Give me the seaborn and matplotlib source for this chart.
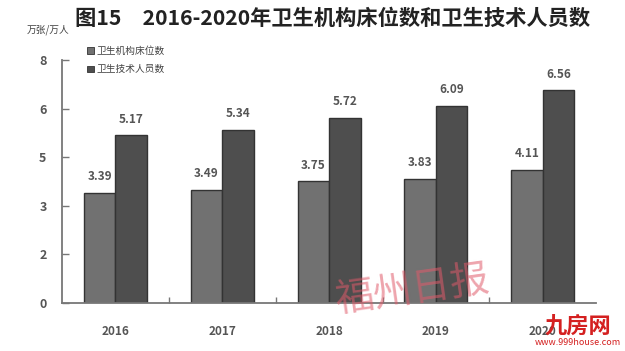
import matplotlib
matplotlib.use("Agg")
import matplotlib.pyplot as plt
import seaborn as sns
import pandas as pd
import numpy as np
from matplotlib.ticker import FuncFormatter, FixedLocator
from matplotlib.patches import Patch

years = ["2016", "2017", "2018", "2019", "2020"]
beds = [3.39, 3.49, 3.75, 3.83, 4.11]
staff = [5.17, 5.34, 5.72, 6.09, 6.56]
series_names = ["卫生机构床位数", "卫生技术人员数"]
y_ticks = [0, 1.5, 3.0, 4.5, 6.0, 7.5]

df = pd.DataFrame({
    "year": years * 2,
    "value": beds + staff,
    "series": [series_names[0]] * len(years) + [series_names[1]] * len(years),
})

sns.set_theme(style="white")
plt.rcParams["font.family"] = ["Noto Sans CJK SC", "DejaVu Sans"]

fig = plt.figure(figsize=(6.25, 3.51), dpi=100)
ax = fig.add_axes([0.099, 0.137, 0.855, 0.692])

palette = ["#717171", "#4e4e4e"]
sns.barplot(data=df, x="year", y="value", hue="series", palette=palette,
            width=0.59, edgecolor="#333333", linewidth=1.0, saturation=1,
            ax=ax, legend=False)

for cont in ax.containers:
    ax.bar_label(cont, fmt="%.2f", padding=7, fontsize=8.5, color="#555555",
                 fontweight="bold")

ax.set_xlim(-0.5, 4.5)
ax.set_ylim(0, 7.5)
ax.yaxis.set_major_locator(FixedLocator(y_ticks))
ax.yaxis.set_major_formatter(FuncFormatter(lambda v, p: f"{int(np.floor(v + 0.5))}"))
ax.set_xlabel("")
ax.set_ylabel("")

for s in ["top", "right"]:
    ax.spines[s].set_visible(False)
for s in ["left", "bottom"]:
    ax.spines[s].set_color("#777777")
    ax.spines[s].set_linewidth(1.3)

ax.tick_params(axis="y", direction="in", length=5, width=1, color="#777777",
               labelsize=9, labelcolor="#555555", pad=11, left=True)
ax.tick_params(axis="x", bottom=False, labelsize=8.5, labelcolor="#555555", pad=10)
for lab in ax.get_yticklabels() + ax.get_xticklabels():
    lab.set_fontweight("bold")
ax.xaxis.set_minor_locator(FixedLocator([0.5, 1.5, 2.5, 3.5]))
ax.tick_params(axis="x", which="minor", bottom=True, direction="in", length=4,
               width=1, color="#777777")

handles = [Patch(facecolor=palette[i], edgecolor="#333333", linewidth=0.6)
           for i in range(2)]
fig.legend(handles, series_names, loc="upper left", bbox_to_anchor=(0.125, 0.895),
           frameon=False, fontsize=7, handlelength=0.7, handleheight=0.7,
           handletextpad=0.3, labelspacing=0.9, labelcolor="#444444")

fig.text(0.12, 0.948, "图15　2016-2020年卫生机构床位数和卫生技术人员数",
         fontsize=15.3, color="#222222", ha="left", va="center", fontweight="bold")
fig.text(0.043, 0.915, "万张/万人", fontsize=7, color="#444444", ha="left", va="center")

# watermarks
fig.text(0.66, 0.17, "福州日报", fontsize=28, color="#e05a6a", alpha=0.55,
         rotation=8, ha="center", va="center", style="italic")
fig.text(0.925, 0.07, "九房网", fontsize=16, color="#d42020", ha="center",
         va="center", fontweight="bold")
fig.text(0.925, 0.012, "www.999house.com", fontsize=6.5, color="#d42020",
         ha="center", va="bottom")

fig.savefig("out.png", dpi=100)
